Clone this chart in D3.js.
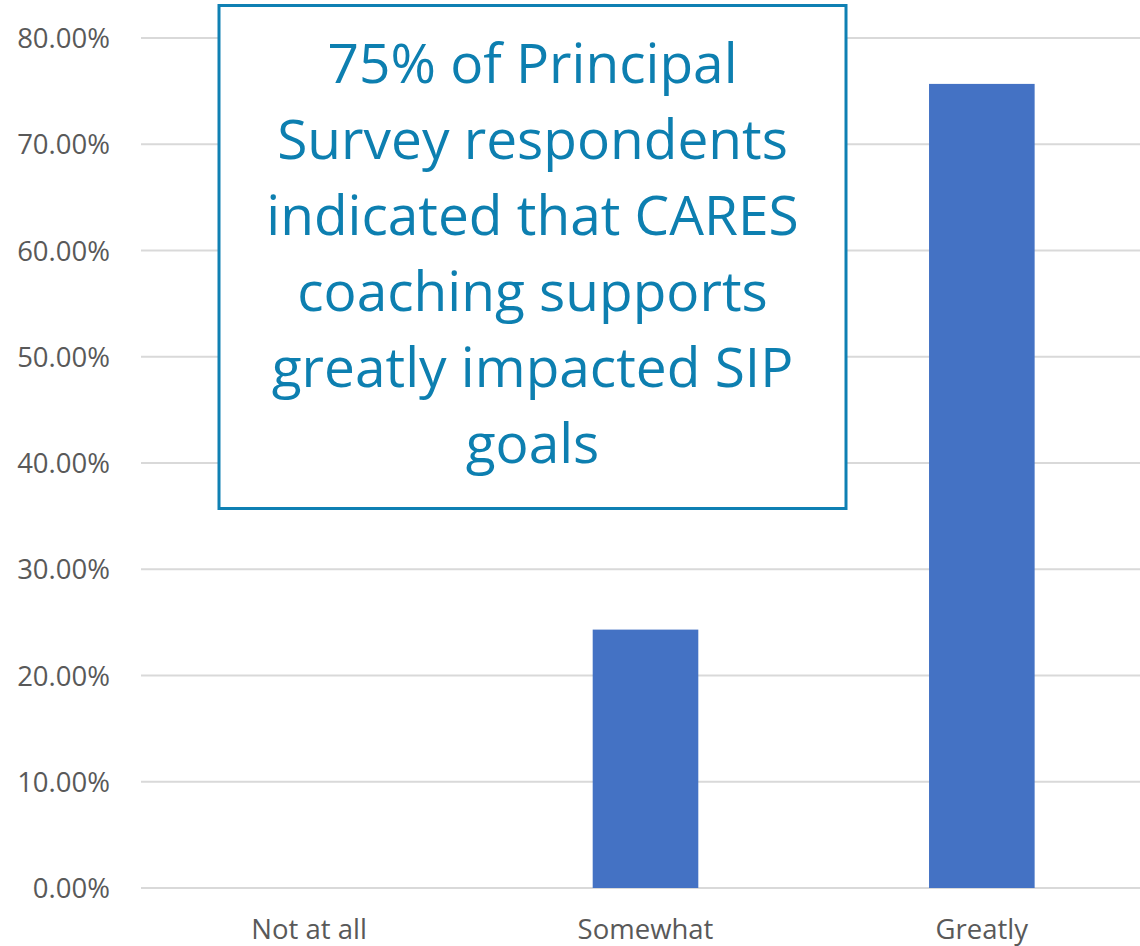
<!DOCTYPE html>
<html>
<head>
<meta charset="utf-8">
<script src="https://cdn.jsdelivr.net/npm/d3@7"></script>
<style>
  body { margin: 0; background: #fff; }
  svg { display: block; }
</style>
</head>
<body>
<div id="chart"></div>
<script>
var categories = ["Not at all", "Somewhat", "Greatly"];
var values = [0, 0.2432, 0.7568];
var yTicks = [0, 0.1, 0.2, 0.3, 0.4, 0.5, 0.6, 0.7, 0.8];
var calloutLines = [
  "75% of Principal",
  "Survey respondents",
  "indicated that CARES",
  "coaching supports",
  "greatly impacted SIP",
  "goals"
];

var width = 1140;
var height = 946;

var svg = d3.select('#chart')
            .append('svg')
            .attr('width', width)
            .attr('height', height);

var x = d3.scaleBand()
          .domain(categories)
          .range([141, 1150])
          .paddingInner(0.686)
          .paddingOuter(0.343);

var y = d3.scaleLinear()
          .domain([0, 0.8])
          .range([888, 38]);

// gridlines
svg.selectAll('line.grid')
   .data(yTicks)
   .enter()
   .append('line')
     .attr('class', 'grid')
     .attr('x1', 141)
     .attr('x2', width)
     .attr('y1', function(d) { return y(d); })
     .attr('y2', function(d) { return y(d); })
     .attr('stroke', '#d9d9d9')
     .attr('stroke-width', 2);

// y axis labels
var yAxis = d3.axisLeft(y)
              .tickValues(yTicks)
              .tickFormat(d3.format('.2%'))
              .tickSize(0)
              .tickPadding(0);

svg.append('g')
   .attr('transform', 'translate(110,0)')
   .call(yAxis)
   .call(function(g) { g.select('.domain').remove(); })
   .selectAll('text')
     .attr('dy', '0.35em')
     .attr('fill', '#595959')
     .style('font-family', '"Open Sans", sans-serif')
     .style('font-size', '27.5px');

// bars
svg.selectAll('rect.bar')
   .data(values)
   .enter()
   .append('rect')
     .attr('class', 'bar')
     .attr('x', function(d, i) { return x(categories[i]); })
     .attr('y', function(d) { return y(d); })
     .attr('width', x.bandwidth())
     .attr('height', function(d) { return y(0) - y(d); })
     .attr('fill', '#4472c4');

// x axis labels
var xAxis = d3.axisBottom(x).tickSize(0).tickPadding(0);
svg.append('g')
   .attr('transform', 'translate(0,939)')
   .call(xAxis)
   .call(function(g) { g.select('.domain').remove(); })
   .selectAll('text')
     .attr('dy', 0)
     .attr('y', 0)
     .attr('fill', '#595959')
     .style('font-family', '"Open Sans", sans-serif')
     .style('font-size', '27.5px');

// callout box
svg.append('rect')
   .attr('x', 219)
   .attr('y', 5.5)
   .attr('width', 627)
   .attr('height', 503)
   .attr('fill', '#fff')
   .attr('stroke', '#0f80b3')
   .attr('stroke-width', 3);

svg.selectAll('text.callout')
   .data(calloutLines)
   .enter()
   .append('text')
     .attr('class', 'callout')
     .attr('x', 532.5)
     .attr('y', function(d, i) { return 83 + i * 76; })
     .attr('text-anchor', 'middle')
     .attr('fill', '#0d7fb0')
     .style('font-family', '"Open Sans", sans-serif')
     .style('font-size', '55px')
     .text(function(d) { return d; });
</script>
</body>
</html>
